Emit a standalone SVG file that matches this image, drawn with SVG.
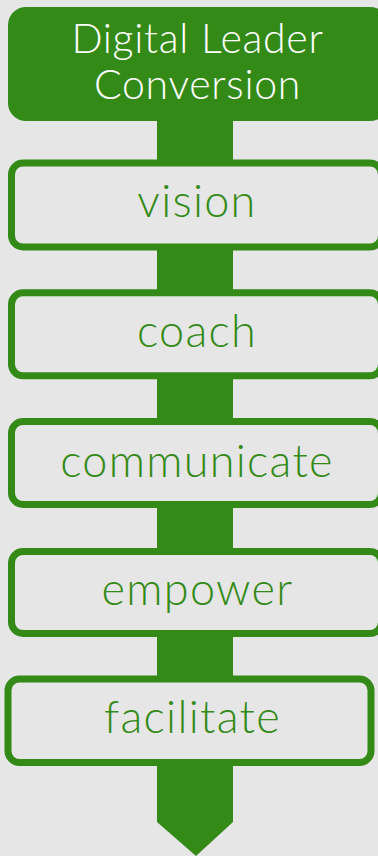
<svg xmlns="http://www.w3.org/2000/svg" width="378" height="856" viewBox="0 0 378 856">
  <style>
    .bg { fill: #e6e6e6; }
    .spine { fill: #338a17; }
    .head rect { fill: #338a17; }
    .head text { fill: #ffffff; font-family: Lato, "Open Sans", sans-serif; font-weight: 300; font-size: 41px; letter-spacing: 0.7px; text-anchor: middle; }
    .step rect { fill: #e6e6e6; stroke: #338a17; stroke-width: 7; }
    .step text { fill: #338a17; font-family: Lato, "Open Sans", sans-serif; font-weight: 300; font-size: 45px; letter-spacing: 1.3px; text-anchor: middle; }
  </style>
  <rect class="bg" x="0" y="0" width="378" height="856"/>

  <!-- central spine ending in an arrow point -->
  <g id="connectors">
    <polygon class="spine" points="157,110 233,110 233,822 196,856 157,822"/>
  </g>

  <g id="title" class="head">
    <rect x="8" y="7" width="380" height="114" rx="18"/>
    <text x="197.5" y="53">Digital Leader</text>
    <text x="197.5" y="99">Conversion</text>
  </g>

  <g id="vision" class="step">
    <rect x="11.5" y="163" width="370" height="84" rx="11.5"/>
    <text x="197" y="217">vision</text>
  </g>

  <g id="coach" class="step">
    <rect x="11.5" y="292.8" width="370" height="83" rx="11.5"/>
    <text x="197" y="347">coach</text>
  </g>

  <g id="communicate" class="step">
    <rect x="11.5" y="421.5" width="370" height="83" rx="11.5"/>
    <text x="197" y="476.5">communicate</text>
  </g>

  <g id="empower" class="step">
    <rect x="11.5" y="551.5" width="370" height="82" rx="11.5"/>
    <text x="197.5" y="605">empower</text>
  </g>

  <g id="facilitate" class="step">
    <rect x="8" y="679" width="363" height="83.5" rx="11.5"/>
    <text x="192.5" y="733">facilitate</text>
  </g>
</svg>
